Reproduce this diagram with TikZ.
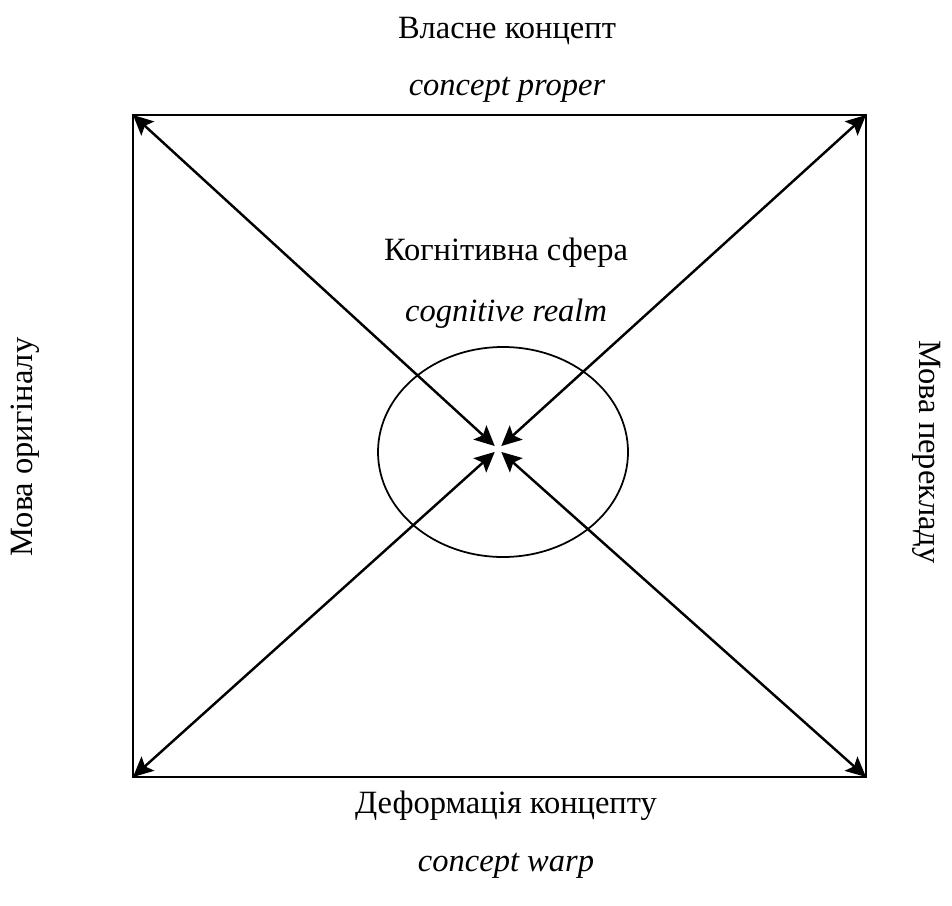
\documentclass[tikz,border=0pt]{standalone}
\usepackage{fontspec}
\setmainfont{Liberation Serif}
\usetikzlibrary{arrows.meta, positioning, calc}

\begin{document}
\begin{tikzpicture}[
        x=0.02cm, y=-0.02cm,
        lbl/.style={font=\fontsize{18.5}{22}\selectfont, inner sep=0pt},
        eng/.style={lbl, font=\fontsize{18.5}{22}\selectfont\itshape},
        frame/.style={line width=1.3pt},
        arrow/.style={{Stealth[length=0.4cm, width=0.38cm, inset=0.08cm]}-{Stealth[length=0.4cm, width=0.38cm, inset=0.08cm]}, line width=1.4pt, shorten >=2.5pt}
    ]
        \useasboundingbox (0,0) rectangle (952,905);

        % Corners and centre
        \coordinate (tl) at (133,115);
        \coordinate (tr) at (866,115);
        \coordinate (bl) at (133,777);
        \coordinate (br) at (866,777);
        \coordinate (c) at (498,449);

        % Frame and realm
        \draw[frame] (tl) rectangle (br);
        \draw[line width=1pt] (503,452) ellipse [x radius=125, y radius=105];

        % Labels
        \node[lbl] (top) at (507,31) {Власне концепт};
        \node[eng] (topen) at (507,90) {concept proper};
        \node[lbl] (mid) at (506,253) {Когнітивна сфера};
        \node[eng] (miden) at (506,314) {cognitive realm};
        \node[lbl] (bot) at (506,806) {Деформація концепту};
        \node[eng] (boten) at (506,866) {concept warp};
        \node[lbl, rotate=90] (left) at (25,447) {Мова оригіналу};
        \node[lbl, rotate=-90] (right) at (927,452) {Мова перекладу};

        % Arrows
        \draw[arrow] (tl) -- (c);
        \draw[arrow] (tr) -- (c);
        \draw[arrow] (bl) -- (c);
        \draw[arrow] (br) -- (c);
    \end{tikzpicture}
\end{document}
